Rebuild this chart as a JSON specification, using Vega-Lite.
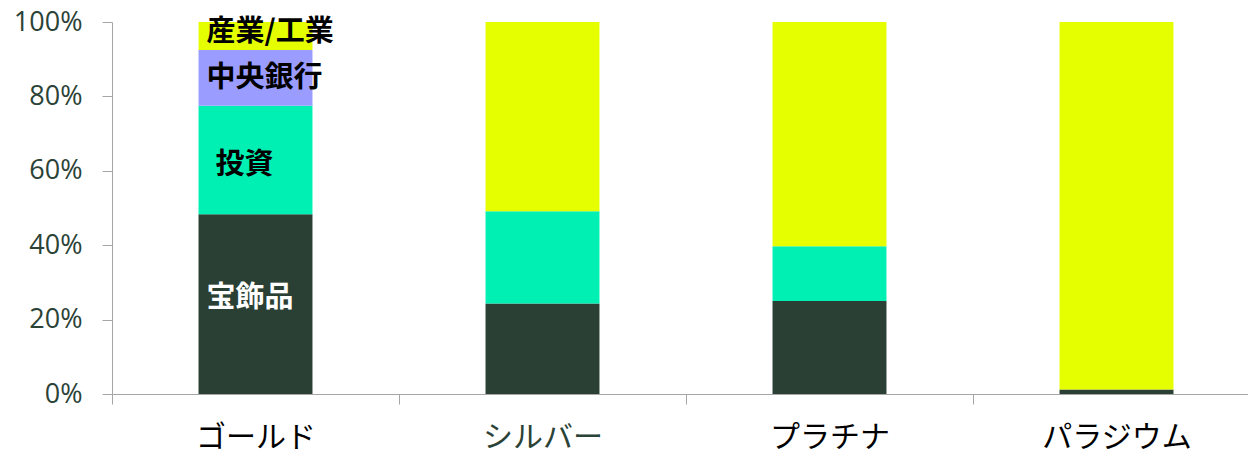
{
  "$schema": "https://vega.github.io/schema/vega-lite/v6.json",
  "width": 1136,
  "height": 372,
  "autosize": "none",
  "padding": {"left": 112, "top": 22, "right": 0, "bottom": 63},
  "background": "white",
  "config": {"view": {"stroke": null}, "font": "Noto Sans CJK JP"},
  "datasets": {
    "segments": [
      {"metal": "ゴールド", "use": "宝飾品", "rank": 1, "share": 48.3},
      {"metal": "ゴールド", "use": "投資", "rank": 2, "share": 29.2},
      {"metal": "ゴールド", "use": "中央銀行", "rank": 3, "share": 15.0},
      {"metal": "ゴールド", "use": "産業/工業", "rank": 4, "share": 7.5},
      {"metal": "シルバー", "use": "宝飾品", "rank": 1, "share": 24.3},
      {"metal": "シルバー", "use": "投資", "rank": 2, "share": 24.8},
      {"metal": "シルバー", "use": "中央銀行", "rank": 3, "share": 0},
      {"metal": "シルバー", "use": "産業/工業", "rank": 4, "share": 50.9},
      {"metal": "プラチナ", "use": "宝飾品", "rank": 1, "share": 25.0},
      {"metal": "プラチナ", "use": "投資", "rank": 2, "share": 14.7},
      {"metal": "プラチナ", "use": "中央銀行", "rank": 3, "share": 0},
      {"metal": "プラチナ", "use": "産業/工業", "rank": 4, "share": 60.3},
      {"metal": "パラジウム", "use": "宝飾品", "rank": 1, "share": 1.2},
      {"metal": "パラジウム", "use": "投資", "rank": 2, "share": 0},
      {"metal": "パラジウム", "use": "中央銀行", "rank": 3, "share": 0},
      {"metal": "パラジウム", "use": "産業/工業", "rank": 4, "share": 98.8}
    ],
    "labels": [
      {"metal": "ゴールド", "label": "産業/工業", "pos": 97.3},
      {"metal": "ゴールド", "label": "中央銀行", "pos": 84.9},
      {"metal": "ゴールド", "label": "投資", "pos": 61.5},
      {"metal": "ゴールド", "label": "宝飾品", "pos": 25.7}
    ]
  },
  "encoding": {
    "x": {
      "field": "metal",
      "type": "nominal",
      "sort": ["ゴールド", "シルバー", "プラチナ", "パラジウム"],
      "scale": {"range": [0, 1148], "paddingInner": 0, "paddingOuter": 0},
      "axis": {
        "title": null,
        "labelAngle": 0,
        "labelFontSize": 30,
        "labelFont": "Noto Sans CJK JP",
        "labelPadding": 18,
        "labelColor": {"condition": {"test": "datum.value === 'シルバー'", "value": "#2b4236"}, "value": "#000000"},
        "domainColor": "#a6a6a6",
        "tickColor": "#a6a6a6",
        "tickSize": 10,
        "tickBand": "extent",
        "grid": false
      }
    }
  },
  "layer": [
    {
      "data": {"name": "segments"},
      "mark": {"type": "bar", "width": {"band": 0.397}},
      "encoding": {
        "y": {
          "field": "share",
          "type": "quantitative",
          "stack": "zero",
          "scale": {"domain": [0, 100], "nice": false},
          "axis": {
            "title": null,
            "values": [0, 20, 40, 60, 80, 100],
            "labelExpr": "datum.value + '%'",
            "labelFontSize": 27,
            "labelFont": "Open Sans",
            "labelColor": "#2b4236",
            "labelPadding": 20,
            "domainColor": "#a6a6a6",
            "tickColor": "#a6a6a6",
            "tickSize": 10,
            "grid": false
          }
        },
        "color": {
          "field": "use",
          "type": "nominal",
          "scale": {
            "domain": ["宝飾品", "投資", "中央銀行", "産業/工業"],
            "range": ["#2a4034", "#00f0b4", "#9a9cff", "#e5ff00"]
          },
          "legend": null
        },
        "order": {"field": "rank", "type": "quantitative"}
      }
    },
    {
      "data": {"name": "labels"},
      "transform": [{"filter": "datum.label !== '投資'"}],
      "mark": {"type": "text", "fontWeight": "bold", "fontSize": 29, "align": "left", "baseline": "middle", "dx": -49},
      "encoding": {
        "y": {"field": "pos", "type": "quantitative"},
        "text": {"field": "label"},
        "color": {"condition": {"test": "datum.label === '宝飾品'", "value": "#ffffff"}, "value": "#000000"}
      }
    },
    {
      "data": {"name": "labels"},
      "transform": [{"filter": "datum.label === '投資'"}],
      "mark": {"type": "text", "fontWeight": "bold", "fontSize": 29, "align": "left", "baseline": "middle", "dx": -40},
      "encoding": {
        "y": {"field": "pos", "type": "quantitative"},
        "text": {"field": "label"},
        "color": {"value": "#000000"}
      }
    }
  ]
}
